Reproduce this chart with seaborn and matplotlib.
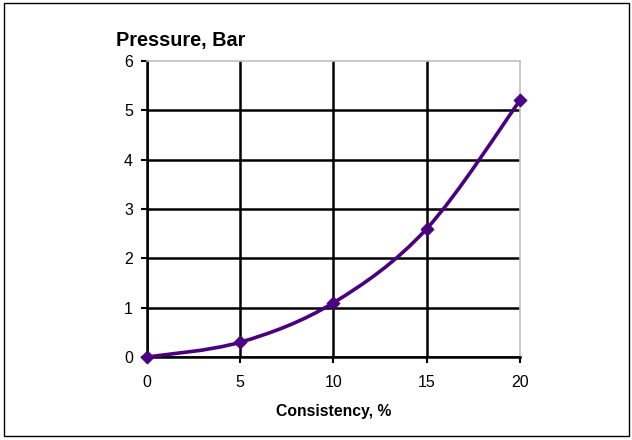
import numpy as np
import pandas as pd
import matplotlib
matplotlib.use("Agg")
import matplotlib.pyplot as plt
from matplotlib.path import Path
from matplotlib.patches import PathPatch, Rectangle
import seaborn as sns

# data
consistency = [0, 5, 10, 15, 20]
pressure = [0, 0.3, 1.1, 2.6, 5.2]
x_ticks = [0, 5, 10, 15, 20]
y_ticks = [0, 1, 2, 3, 4, 5, 6]

df = pd.DataFrame({"consistency": consistency, "pressure": pressure})
line_color = "#4B0082"

sns.set_style("white", {"text.color": "black", "xtick.color": "black",
                        "ytick.color": "black", "axes.labelcolor": "black"})
plt.rcParams["font.family"] = ["Liberation Sans", "DejaVu Sans"]

fig = plt.figure(figsize=(6.32, 4.4), dpi=100)
ax = fig.add_axes([0.2326, 0.1886, 0.590, 0.6727])

# smoothed line (Excel-style Catmull-Rom through the data points)
xs = np.array(consistency, dtype=float)
ys = np.array(pressure, dtype=float)
verts = [(xs[0], ys[0])]
codes = [Path.MOVETO]
n = len(xs)
for i in range(n - 1):
    p0 = (xs[max(i - 1, 0)], ys[max(i - 1, 0)])
    p1 = (xs[i], ys[i])
    p2 = (xs[i + 1], ys[i + 1])
    p3 = (xs[min(i + 2, n - 1)], ys[min(i + 2, n - 1)])
    c1 = (p1[0] + (p2[0] - p0[0]) / 6, p1[1] + (p2[1] - p0[1]) / 6)
    c2 = (p2[0] - (p3[0] - p1[0]) / 6, p2[1] - (p3[1] - p1[1]) / 6)
    verts += [c1, c2, p2]
    codes += [Path.CURVE4] * 3
ax.add_patch(PathPatch(Path(verts, codes), facecolor="none", edgecolor=line_color,
                       lw=2.6, zorder=3, clip_on=False))

sns.scatterplot(data=df, x="consistency", y="pressure", marker="D", s=45,
                color=line_color, edgecolor=line_color, ax=ax, zorder=4, clip_on=False)

ax.set_xlim(0, 20)
ax.set_ylim(0, 6)
ax.set_xticks(x_ticks)
ax.set_yticks(y_ticks)
ax.grid(True, color="black", lw=1.8)
ax.set_axisbelow(True)
# outer edges of the plot area stay light grey like the original
ax.get_ygridlines()[-1].set_visible(False)
ax.get_xgridlines()[-1].set_visible(False)
for side in ["left", "bottom"]:
    ax.spines[side].set_color("black")
    ax.spines[side].set_linewidth(1.8)
for side in ["top", "right"]:
    ax.spines[side].set_color("#c0c0c0")
    ax.spines[side].set_linewidth(1.2)
ax.tick_params(axis="both", which="both", direction="out", length=4, width=1.5,
               color="black", labelcolor="black", labelsize=11.5, left=True, bottom=True)
ax.tick_params(axis="x", pad=9)
ax.tick_params(axis="y", pad=6)
ax.set_xlabel("Consistency, %", fontsize=11.3, fontweight="bold", labelpad=10,
              color="black")
ax.set_ylabel("")
fig.text(0.184, 0.908, "Pressure, Bar", fontsize=14.3, fontweight="bold",
         ha="left", va="center", color="black")

fig.patches.append(Rectangle((0.006, 0.008), 0.989, 0.986, transform=fig.transFigure,
                             fill=False, edgecolor="black", lw=1))

fig.savefig("out.png", dpi=100)
